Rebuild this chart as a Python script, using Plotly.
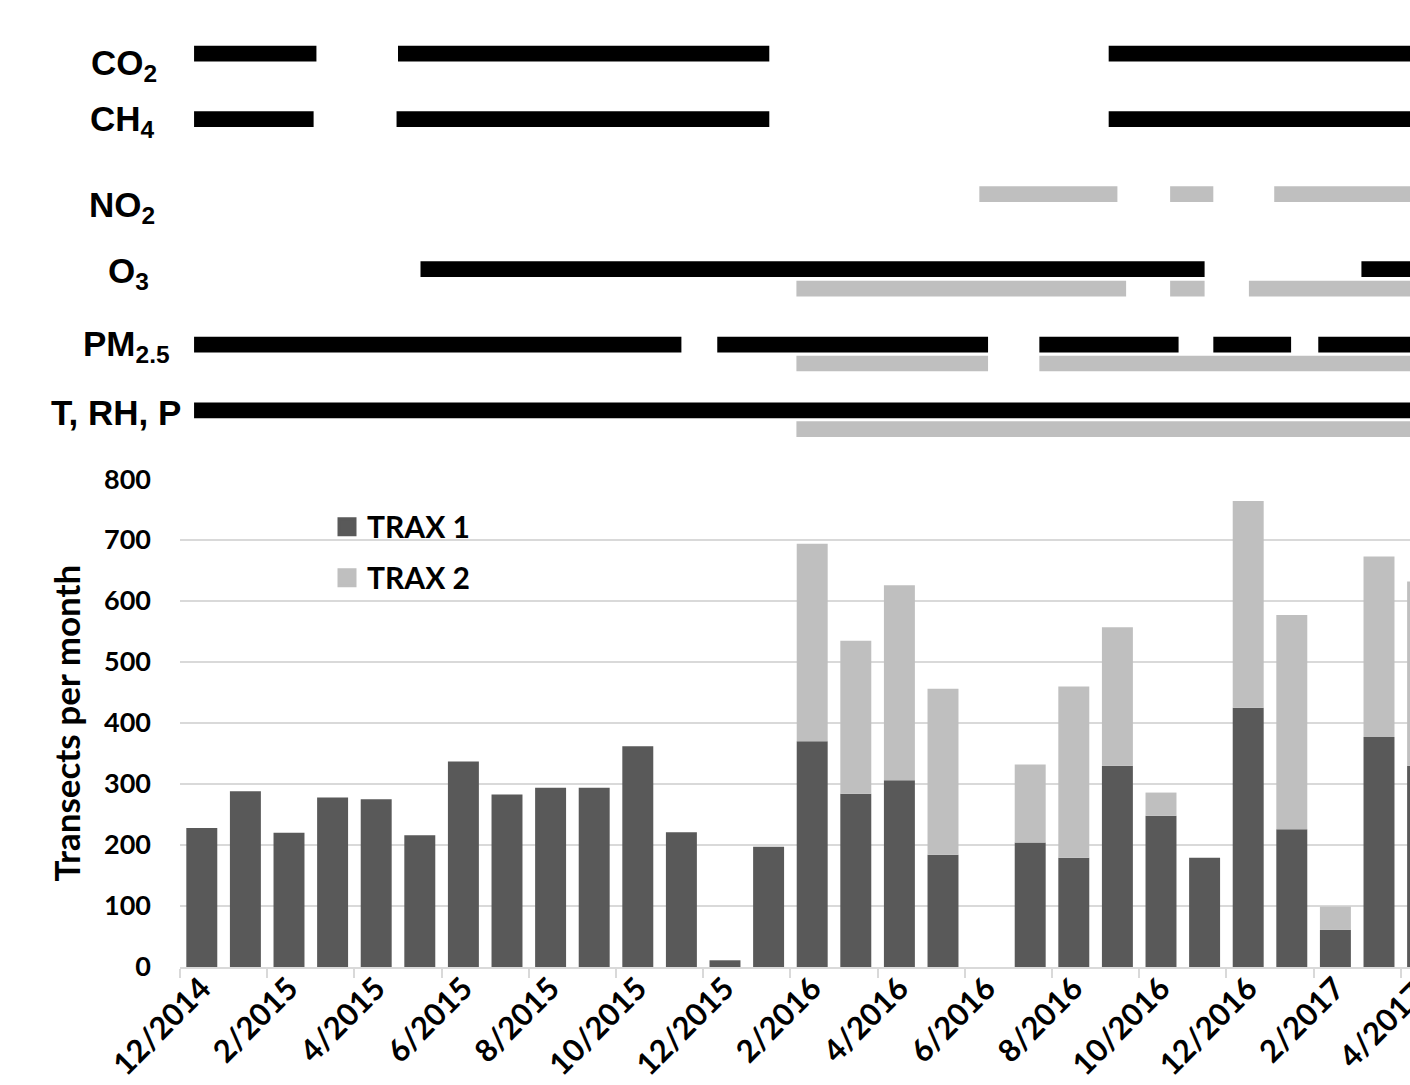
import calendar
import plotly.graph_objects as go

# ---------------- data ----------------
months = ["12/2014", "1/2015", "2/2015", "3/2015", "4/2015", "5/2015", "6/2015",
          "7/2015", "8/2015", "9/2015", "10/2015", "11/2015", "12/2015", "1/2016",
          "2/2016", "3/2016", "4/2016", "5/2016", "6/2016", "7/2016", "8/2016",
          "9/2016", "10/2016", "11/2016", "12/2016", "1/2017", "2/2017", "3/2017",
          "4/2017"]
trax1 = [228, 288, 220, 278, 275, 216, 337, 283, 294, 294, 362, 221, 11, 197,
         370, 284, 306, 184, 0, 204, 179, 330, 248, 179, 425, 226, 61, 377, 330]
trax2 = [0, 0, 0, 0, 0, 0, 0, 0, 0, 0, 0, 0, 0, 0,
         324, 251, 320, 272, 0, 128, 281, 227, 38, 0, 339, 351, 38, 296, 302]
tick_labels = months[::2]

# instrument operating periods (start, end)
co2_trax1 = [("2014-12-11", "2015-03-05"), ("2015-05-01", "2016-01-17"), ("2016-09-10", "2017-06-30")]
ch4_trax1 = [("2014-12-11", "2015-03-03"), ("2015-04-30", "2016-01-17"), ("2016-09-10", "2017-06-30")]
no2_trax2 = [("2016-06-11", "2016-09-16"), ("2016-10-23", "2016-11-22"), ("2017-01-04", "2017-06-30")]
o3_trax1 = [("2015-05-17", "2016-11-16"), ("2017-03-04", "2017-06-30")]
o3_trax2 = [("2016-02-05", "2016-09-22"), ("2016-10-23", "2016-11-16"), ("2016-12-17", "2017-06-30")]
pm_trax1 = [("2014-12-11", "2015-11-16"), ("2015-12-11", "2016-06-17"), ("2016-07-23", "2016-10-29"),
            ("2016-11-22", "2017-01-16"), ("2017-02-04", "2017-06-30")]
pm_trax2 = [("2016-02-05", "2016-06-17"), ("2016-07-23", "2017-06-30")]
met_trax1 = [("2014-12-11", "2017-06-30")]
met_trax2 = [("2016-02-05", "2017-06-30")]

# ---------------- styling ----------------
W, H = 1410, 1085
ML, MR, MT = 180, 0, 0
ZERO_Y = 967.5                # pixel row of the 0 line
TOP_Y = 479.3                 # pixel row of the 800 line
MB = H - ZERO_Y
PW, PH = W - ML - MR, H - MT - MB
CAT = 43.6                    # pixels per month
DARK, LIGHT, BLACK = "#595959", "#BFBFBF", "#000000"
GRID = "#D9D9D9"
TICKFONT = dict(family="Lato", size=27, color="#000000", weight=700)
XTICKFONT = dict(family="Lato", size=31, color="#000000", weight=700)
ARIAL = dict(family="Liberation Sans, Arial", size=35, color="#000000", weight=700)

TL_H = 462                     # pixel height of the timeline panel
ROW_THICK = 15.7
tracks = [  # (periods, row centre px, colour)
    (co2_trax1, 53.7, BLACK), (ch4_trax1, 119.2, BLACK), (no2_trax2, 194.2, LIGHT),
    (o3_trax1, 269.2, BLACK), (o3_trax2, 288.7, LIGHT),
    (pm_trax1, 344.8, BLACK), (pm_trax2, 363.7, LIGHT),
    (met_trax1, 410.5, BLACK), (met_trax2, 429.3, LIGHT),
]
row_labels = [  # (text, right edge px, centre px)
    ("CO<sub>2</sub>", 159, 65), ("CH<sub>4</sub>", 157, 121), ("NO<sub>2</sub>", 157, 207),
    ("O<sub>3</sub>", 151, 273), ("PM<sub>2.5</sub>", 172, 346), ("T, RH, P", 183, 413),
]


def to_x(date):
    y, m, d = (int(v) for v in date.split("-"))
    k = (y - 2014) * 12 + (m - 12)
    return k - 0.5 + (d - 1) / calendar.monthrange(y, m)[1]


x_idx = list(range(len(months)))
x_end = -0.5 + PW / CAT

fig = go.Figure()
fig.add_trace(go.Bar(x=x_idx, y=trax1, marker=dict(color=DARK, line=dict(width=0)),
                     width=0.71, showlegend=False, legendgroup="t1", name="TRAX 1"))
fig.add_trace(go.Bar(x=x_idx, y=trax2, base=trax1, marker=dict(color=LIGHT, line=dict(width=0)),
                     width=0.71, showlegend=False, legendgroup="t2", name="TRAX 2"))
# legend entries
for nm, col, grp in (("TRAX 1", DARK, "t1"), ("TRAX 2", LIGHT, "t2")):
    fig.add_trace(go.Scatter(x=[None], y=[None], mode="markers", name=nm, legendgroup=grp,
                             marker=dict(symbol="square", size=16, color=col,
                                         line=dict(width=3, color=col))))

for periods, yc, col in tracks:
    starts = [to_x(s) for s, e in periods]
    lens = [to_x(e) - to_x(s) for s, e in periods]
    fig.add_trace(go.Bar(orientation="h", y=[yc] * len(periods), x=lens, base=starts,
                         width=ROW_THICK, marker=dict(color=col, line=dict(width=0)),
                         xaxis="x2", yaxis="y2", showlegend=False, hoverinfo="skip"))

for txt, xr, yc in row_labels:
    fig.add_annotation(text=txt, xref="paper", yref="y2", x=(xr - ML) / PW, y=yc,
                       xanchor="right", yanchor="middle", showarrow=False, font=ARIAL)

# last month label, only partly inside the picture edge
last = len(months) - 1
fig.add_annotation(text=months[last], xref="paper", yref="paper",
                   x=(last + 0.5) / (x_end + 0.5), y=0, xshift=-42, yshift=-58,
                   textangle=-45, showarrow=False, font=XTICKFONT,
                   xanchor="center", yanchor="middle")

fig.update_layout(
    width=W, height=H, margin=dict(l=ML, r=MR, t=MT, b=MB, autoexpand=False),
    paper_bgcolor="white", plot_bgcolor="white", barmode="overlay",
    showlegend=True,
    legend=dict(x=(327 - ML) / PW, y=1 - 501 / PH, xanchor="left", yanchor="top",
                font=dict(family="Lato", size=30, color="#000000", weight=700),
                tracegroupgap=9, bgcolor="rgba(0,0,0,0)"),
    xaxis=dict(domain=[0, 1], range=[-0.5, x_end], tickmode="array",
               tickvals=x_idx[::2], ticktext=tick_labels, tickangle=-45, ticks="",
               tickfont=XTICKFONT, showgrid=False, zeroline=False, showline=True,
               linecolor=GRID, linewidth=2, ticklabelstandoff=-11,
               minor=dict(tick0=-0.5, dtick=2, ticks="outside", ticklen=9,
                          tickcolor=GRID, tickwidth=2, showgrid=False),
               anchor="y"),
    yaxis=dict(domain=[0, (ZERO_Y - TOP_Y) / PH],
               range=[0, 800], tickvals=list(range(0, 801, 100)), tickfont=TICKFONT,
               showgrid=True, gridcolor=GRID, gridwidth=2, zeroline=False,
               ticks="", ticklabelstandoff=28,
               title=dict(text="Transects per month",
                          font=dict(family="Lato", size=35, color="#000000", weight=700),
                          standoff=12)),
    xaxis2=dict(domain=[0, 1], matches="x", anchor="y2", visible=False),
    yaxis2=dict(domain=[1 - TL_H / PH, 1], range=[TL_H, 0], visible=False),
)
fig.write_html("out.html", config={"displayModeBar": False},
               post_script="document.body.style.margin='0';document.body.style.overflow='hidden';")
